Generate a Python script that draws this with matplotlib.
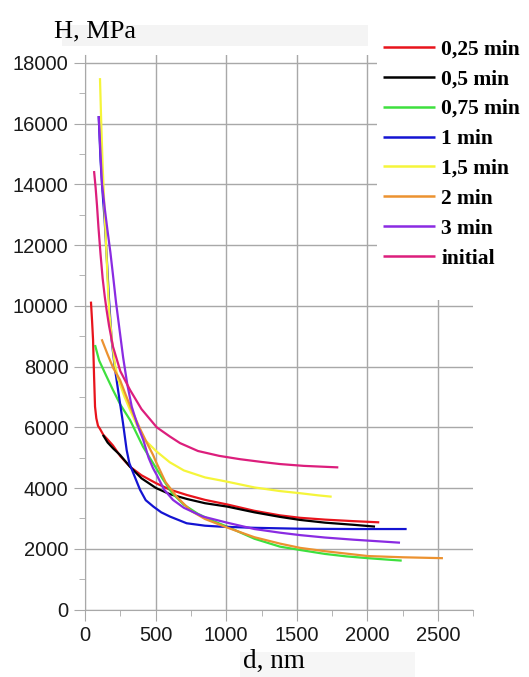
import matplotlib
matplotlib.use("Agg")
import matplotlib.pyplot as plt
from matplotlib.patches import Rectangle
from matplotlib.ticker import MultipleLocator

# indentation diameter d (nm) vs hardness H (MPa)
d_025 = [42, 50, 57, 64, 71, 80, 92, 106, 130, 160, 198, 250, 319, 400, 503, 600, 722, 850,
         1006, 1200, 1381, 1523, 1700, 1900, 2084]
h_025 = [10140, 9500, 8880, 7700, 6680, 6300, 6050, 5950, 5750, 5600, 5400, 5050, 4700, 4420,
         4160, 3950, 3770, 3610, 3460, 3250, 3100, 3020, 2960, 2910, 2870]

d_05 = [127, 160, 200, 248, 319, 400, 503, 600, 722, 850, 1006, 1200, 1381, 1523, 1700, 1900, 2054]
h_05 = [5750, 5500, 5300, 5090, 4700, 4320, 4000, 3800, 3640, 3500, 3390, 3200, 3050, 2950,
        2860, 2790, 2730]

d_075 = [71, 100, 150, 198, 250, 319, 411, 482, 550, 616, 700, 800, 900, 1006, 1200, 1381,
         1523, 1700, 1850, 2004, 2150, 2243]
h_075 = [8710, 8200, 7700, 7230, 6750, 6240, 5360, 4820, 4300, 3840, 3450, 3150, 2930, 2730,
         2330, 2070, 1960, 1830, 1750, 1690, 1640, 1610]

d_1 = [97, 110, 125, 139, 155, 170, 189, 210, 234, 269, 295, 314, 342, 390, 430, 484, 540, 602,
       720, 850, 956, 1200, 1523, 1900, 2278]
h_1 = [16250, 14800, 13700, 12830, 11500, 10200, 8860, 8000, 7230, 6140, 5250, 4820, 4490, 3940,
       3600, 3390, 3200, 3060, 2840, 2760, 2730, 2690, 2660, 2650, 2650]

d_15 = [106, 115, 125, 135, 149, 163, 172, 190, 210, 234, 280, 319, 370, 425, 508, 600, 700, 850,
        1006, 1200, 1381, 1523, 1650, 1747]
h_15 = [17500, 16000, 14600, 13490, 12040, 10500, 9800, 8900, 8100, 7600, 7000, 6570, 6050, 5580,
        5200, 4850, 4580, 4350, 4210, 4020, 3900, 3830, 3760, 3715]

d_2 = [118, 160, 200, 248, 290, 340, 390, 439, 482, 503, 570, 652, 750, 850, 1006, 1200, 1381,
       1523, 1700, 2004, 2250, 2535]
h_2 = [8900, 8400, 7950, 7560, 7050, 6470, 5950, 5480, 5090, 4860, 4200, 3700, 3250, 2980, 2700,
       2380, 2170, 2030, 1920, 1760, 1720, 1690]

d_3 = [97, 110, 120, 140, 158, 180, 198, 220, 245, 270, 300, 331, 370, 413, 450, 482, 508, 560,
       623, 700, 836, 1006, 1200, 1381, 1523, 1700, 1900, 2100, 2231]
h_3 = [16250, 15000, 14040, 13200, 12530, 11750, 11020, 10100, 9200, 8300, 7400, 6680, 6100, 5580,
       5000, 4650, 4430, 3950, 3610, 3350, 3060, 2860, 2650, 2530, 2450, 2370, 2300, 2240, 2200]

d_init = [64, 75, 85, 95, 110, 125, 140, 153, 170, 198, 250, 319, 400, 508, 600, 673, 800, 950,
          1098, 1250, 1381, 1550, 1794]
h_init = [14440, 13900, 13300, 12600, 11700, 10900, 10300, 9860, 9350, 8660, 7850, 7230, 6600,
          6000, 5700, 5480, 5220, 5060, 4950, 4860, 4790, 4730, 4680]

labels = ['0,25 min', '0,5 min', '0,75 min', '1 min', '1,5 min', '2 min', '3 min', 'initial']
colors = ['#e8141c', '#000000', '#3ee03e', '#1414d2', '#f5f53a', '#ec9230', '#8a2be2', '#dc1e7c']
series = [(d_025, h_025), (d_05, h_05), (d_075, h_075), (d_1, h_1),
          (d_15, h_15), (d_2, h_2), (d_3, h_3), (d_init, h_init)]

fig = plt.figure(figsize=(5.29, 6.77), dpi=100)
ax = fig.add_axes([0.1607, 0.0997, 0.734, 0.819])

for (x, y), lab, c in zip(series, labels, colors):
    ax.plot(x, y, color=c, lw=1.6, label=lab, solid_capstyle='butt')

ax.set_xlim(0, 2750)
ax.set_ylim(0, 18260)
ax.xaxis.set_major_locator(MultipleLocator(500))
ax.xaxis.set_minor_locator(MultipleLocator(250))
ax.yaxis.set_major_locator(MultipleLocator(2000))
ax.yaxis.set_minor_locator(MultipleLocator(1000))
ax.grid(True, which='major', color='#a8a8a8', lw=1.0)
ax.set_axisbelow(True)
for s in ['top', 'right']:
    ax.spines[s].set_visible(False)
for s in ['left', 'bottom']:
    ax.spines[s].set_color('#a8a8a8')
ax.tick_params(which='major', direction='out', length=8, color='#a8a8a8',
               labelsize=14.5, labelcolor='#1a1a1a', pad=4)
ax.tick_params(which='minor', direction='out', length=4, color='#a8a8a8')
for t in ax.get_xticklabels() + ax.get_yticklabels():
    t.set_fontfamily('Liberation Sans')

# faint bands behind the axis titles, as in the scan
fig.patches.append(Rectangle((62 / 529, 1 - 46 / 677), 306 / 529, 21 / 677,
                             transform=fig.transFigure, facecolor='#f4f4f4', zorder=1))
fig.patches.append(Rectangle((240 / 529, 0), 175 / 529, 25 / 677,
                             transform=fig.transFigure, facecolor='#f6f6f6', zorder=1))
# white area under the legend hides the grid there
fig.patches.append(Rectangle((377 / 529, 1 - 300 / 677), 152 / 529, 250 / 677,
                             transform=fig.transFigure, facecolor='white', zorder=3))

fig.text(54 / 529, 1 - 37 / 677, 'H, MPa', fontsize=19, family='Liberation Serif', zorder=4)
fig.text(274 / 529, 1 - 668 / 677, 'd, nm', fontsize=19.5, family='Liberation Serif',
         ha='center', zorder=4)

leg = fig.legend(loc='upper left', bbox_to_anchor=(368 / 529, 1 - 24 / 677), frameon=False,
                 prop={'family': 'Liberation Serif', 'weight': 'bold', 'size': 15.5},
                 handlelength=2.4, handletextpad=0.3, labelspacing=0.46, borderpad=0.2)
leg.set_zorder(5)
for line in leg.get_lines():
    line.set_linewidth(1.8)

fig.savefig('out.png', dpi=100)
